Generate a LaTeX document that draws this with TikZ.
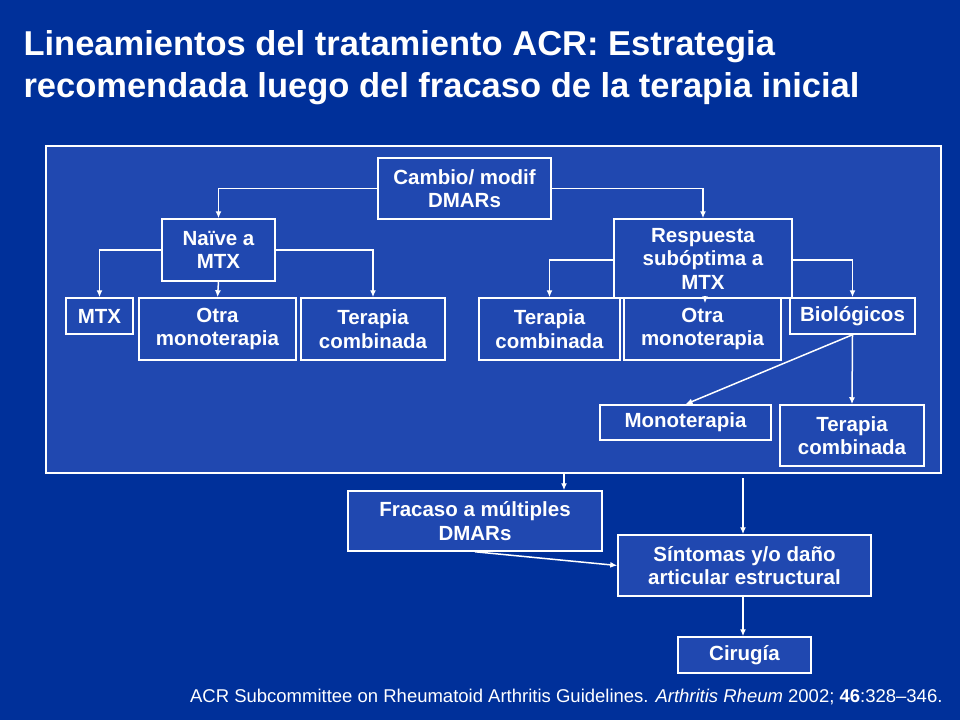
\documentclass[tikz,border=0pt]{standalone}
\usepackage{fontspec}
\setmainfont{Liberation Sans}
\usetikzlibrary{arrows.meta}
\definecolor{bgblue}{RGB}{0,48,154}
\definecolor{inblue}{RGB}{32,72,176}
\begin{document}
\begin{tikzpicture}[x=1pt,y=-1pt,
  bx/.style={draw=white,line width=1.5pt,fill=inblue,text=white,font=\fontsize{20.5}{23.5}\selectfont\bfseries,align=center,inner sep=0pt},
  ar/.style={draw=white,line width=1.5pt,-{Latex[length=7pt,width=6pt]}}]
\fill[bgblue] (0,0) rectangle (960,720);
\useasboundingbox (0,0) rectangle (960,720);
\node[anchor=west,text=white,font=\fontsize{34.5}{42}\selectfont\bfseries,align=left] (title) at (20,68) {Lineamientos del tratamiento ACR: Estrategia\\recomendada luego del fracaso de la terapia inicial};
\node[draw=white,line width=1.5pt,fill=inblue,minimum width=895,minimum height=327,anchor=north west,inner sep=0pt] (frame) at (45,145) {};
\newcommand\bxat[6]{\node[bx,minimum width=#4-#2,minimum height=#5-#3] (#1) at ({(#2+#4)/2},{(#3+#5)/2}) {#6};}
\bxat{cam}{378}{158}{551}{219}{Cambio/ modif\\DMARs}
\bxat{nai}{162}{219}{275}{281}{Naïve a\\MTX}
\bxat{res}{614}{219}{792}{298}{Respuesta\\subóptima a\\MTX}
\bxat{mtx}{66}{298}{133}{334}{MTX}
\bxat{otl}{139}{298}{296}{360}{Otra\\monoterapia}
\bxat{tel}{301}{298}{445}{360}{Terapia\\combinada}
\bxat{ter}{479}{298}{620}{360}{Terapia\\combinada}
\bxat{otr}{624}{298}{781}{360}{Otra\\monoterapia}
\bxat{bio}{790}{298}{915}{334}{Biológicos}
\bxat{mon}{600}{405}{771}{440}{Monoterapia}
\bxat{tc2}{780}{405}{924}{466}{Terapia\\combinada}
\bxat{fra}{348}{491}{602}{551}{Fracaso a múltiples\\DMARs}
\bxat{sin}{618}{535}{871}{596}{Síntomas y/o daño\\articular estructural}
\bxat{cir}{678}{637}{811}{673}{Cirugía}
\draw[ar] (cam.west) -| (nai.north);
\draw[ar] (cam.east) -| (res.north);
\draw[ar] (nai.west) -| (mtx.north);
\draw[ar] (nai.south) -- (otl.north);
\draw[ar] (nai.east) -| (tel.north);
\draw[ar] (res.west|-0,260) -| (ter.north);
\draw[ar] (res.east|-0,260) -| (bio.north);
\draw[ar,shorten >=-6pt] (705,296) -- (otr.north-|705,0);
\draw[ar] (bio.south) -- (mon.north);
\draw[ar] (bio.south) -- (tc2.north);
\draw[ar] (frame.south-|564,0) -- (fra.north-|564,0);
\coordinate (c1) at (743,478);
\draw[ar] (c1) -- (sin.north-|c1);
\draw[ar] (fra.south-|475,0) -- (sin.west);
\draw[ar] (sin.south-|c1) -- (cir.north-|c1);
\node[anchor=east,text=white,font=\fontsize{18.5}{20}\selectfont] (ref) at (946,697) {ACR Subcommittee on Rheumatoid Arthritis Guidelines. \textit{Arthritis Rheum} 2002; \textbf{46}:328--346.};
\end{tikzpicture}
\end{document}
